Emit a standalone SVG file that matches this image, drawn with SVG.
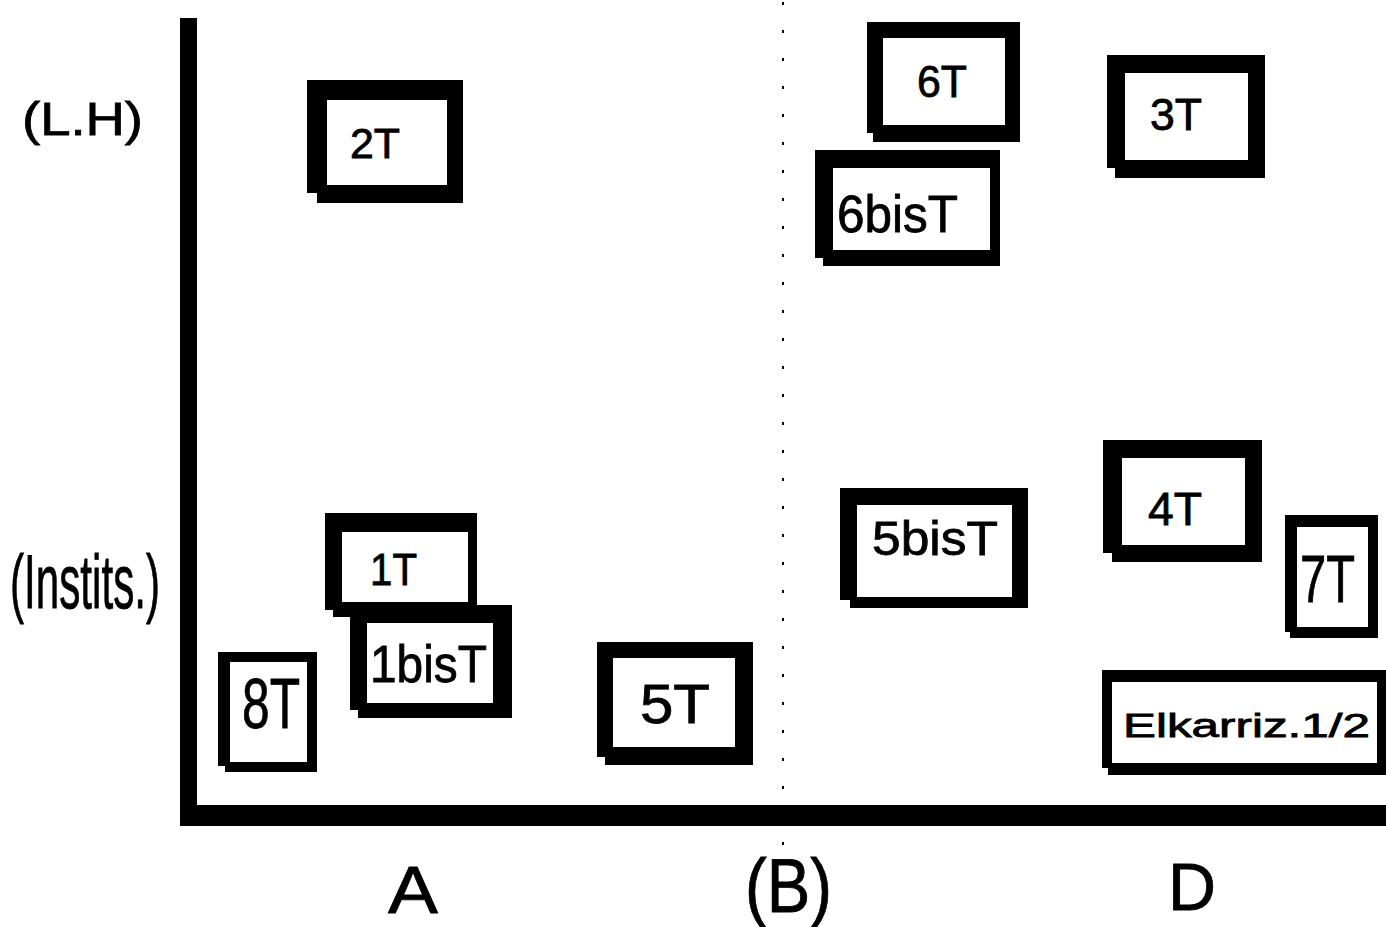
<svg xmlns="http://www.w3.org/2000/svg" width="1386" height="927" viewBox="0 0 1386 927">
<style>
.frame{fill:#000}
.inner{fill:#fff}
.t{font-family:"Liberation Sans",Arial,sans-serif;fill:#000;stroke:#000;stroke-width:0.8}
</style>
<rect width="1386" height="927" fill="#fff"/>
<g id="axes">
<line x1="783" y1="2" x2="783" y2="852" stroke="#000" stroke-width="2" stroke-dasharray="3 25"/>
<rect x="180" y="18" width="17" height="808" fill="#000"/>
<rect x="180" y="805" width="1206" height="21" fill="#000"/>
</g>
<g id="labels">
<text class="t" x="22" y="135" font-size="46" textLength="121" lengthAdjust="spacingAndGlyphs">(L.H)</text>
<text class="t" x="10" y="608" font-size="76" textLength="150" lengthAdjust="spacingAndGlyphs">(Instits.)</text>
<text class="t" x="388" y="913" font-size="67" textLength="50" lengthAdjust="spacingAndGlyphs">A</text>
<text class="t" x="745" y="912" font-size="76" textLength="87" lengthAdjust="spacingAndGlyphs">(B)</text>
<text class="t" x="1168" y="910" font-size="67" textLength="48" lengthAdjust="spacingAndGlyphs">D</text>
</g>
<g id="n2T"><path class="frame" d="M307 80H463V203H317V193H307Z"/><rect class="inner" x="327" y="100" width="120" height="85"/><text class="t" x="350" y="158" font-size="42" textLength="50" lengthAdjust="spacingAndGlyphs">2T</text></g>
<g id="n6T"><path class="frame" d="M867 22H1020V142H873V133H867Z"/><rect class="inner" x="883" y="38" width="122" height="87"/><text class="t" x="917" y="97" font-size="45" textLength="50" lengthAdjust="spacingAndGlyphs">6T</text></g>
<g id="n6bisT"><path class="frame" d="M815 150H1000V266H823V258H815Z"/><rect class="inner" x="833" y="168" width="157" height="82"/><text class="t" x="837" y="232" font-size="52" textLength="121" lengthAdjust="spacingAndGlyphs">6bisT</text></g>
<g id="n3T"><path class="frame" d="M1107 55H1265V178H1115V168H1107Z"/><rect class="inner" x="1125" y="73" width="123" height="87"/><text class="t" x="1150" y="130" font-size="44" textLength="52" lengthAdjust="spacingAndGlyphs">3T</text></g>
<g id="n1T"><path class="frame" d="M325 513H477V617H333V610H325Z"/><rect class="inner" x="342" y="532" width="126" height="70"/><text class="t" x="370" y="585" font-size="44" textLength="47" lengthAdjust="spacingAndGlyphs">1T</text></g>
<g id="n1bisT"><path class="frame" d="M350 605H512V718H358V710H350Z"/><rect class="inner" x="367" y="623" width="126" height="80"/><text class="t" x="370" y="682" font-size="52" textLength="117" lengthAdjust="spacingAndGlyphs">1bisT</text></g>
<g id="n8T"><path class="frame" d="M218 652H317V772H225V766H218Z"/><rect class="inner" x="230" y="662" width="77" height="100"/><text class="t" x="242" y="728" font-size="70" textLength="58" lengthAdjust="spacingAndGlyphs">8T</text></g>
<g id="n5T"><path class="frame" d="M597 642H753V765H605V757H597Z"/><rect class="inner" x="613" y="658" width="122" height="89"/><text class="t" x="640" y="723" font-size="56" textLength="70" lengthAdjust="spacingAndGlyphs">5T</text></g>
<g id="n5bisT"><path class="frame" d="M840 488H1028V608H850V600H840Z"/><rect class="inner" x="857" y="505" width="155" height="92"/><text class="t" x="872" y="555" font-size="49" textLength="126" lengthAdjust="spacingAndGlyphs">5bisT</text></g>
<g id="n4T"><path class="frame" d="M1103 440H1262V562H1112V553H1103Z"/><rect class="inner" x="1122" y="458" width="123" height="87"/><text class="t" x="1148" y="525" font-size="46" textLength="54" lengthAdjust="spacingAndGlyphs">4T</text></g>
<g id="n7T"><path class="frame" d="M1285 515H1378V638H1290V632H1285Z"/><rect class="inner" x="1297" y="527" width="71" height="100"/><text class="t" x="1300" y="602" font-size="66" textLength="55" lengthAdjust="spacingAndGlyphs">7T</text></g>
<g id="nElkarriz"><path class="frame" d="M1102 670H1386V775H1108V768H1102Z"/><rect class="inner" x="1112" y="682" width="265" height="81"/><text class="t" x="1123" y="737" font-size="33" textLength="247" lengthAdjust="spacingAndGlyphs">Elkarriz.1/2</text></g>
</svg>
